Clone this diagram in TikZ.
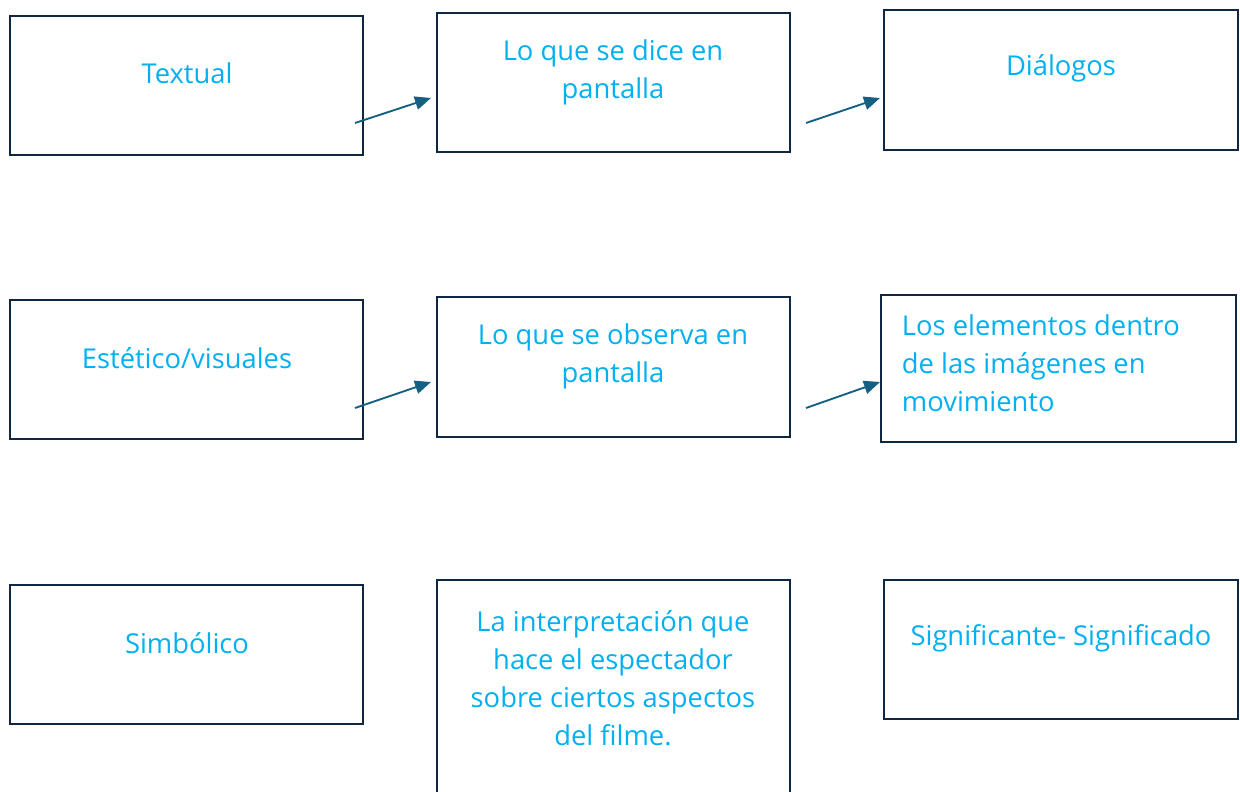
\documentclass[tikz,border=0pt]{standalone}
\usepackage{fontspec}
\setmainfont[Ligatures=NoCommon]{Open Sans}
\usetikzlibrary{arrows.meta}
\definecolor{boxline}{HTML}{0E2841}
\definecolor{arrowline}{HTML}{156082}
\definecolor{labeltext}{HTML}{00B0F0}
\tikzset{every picture/.style={line width=0.75pt},
  box/.style={draw=boxline, line width=1.9pt},
  label/.style={text=labeltext, font=\fontsize{20.5pt}{28.5pt}\selectfont},
  link/.style={draw=arrowline, line width=1.4pt, -{Triangle[length=12pt,width=10pt]}}}
\begin{document}
\begin{tikzpicture}[x=0.75pt,y=0.75pt,yscale=-1,xscale=1]
    \useasboundingbox (0,0) rectangle (1240,792);

    %Shape: Rectangle [id:textual]
    \draw [box] (10,16) -- (363,16) -- (363,155) -- (10,155) -- cycle ;
    %Shape: Rectangle [id:dice]
    \draw [box] (437,13) -- (790,13) -- (790,152) -- (437,152) -- cycle ;
    %Shape: Rectangle [id:dialogos]
    \draw [box] (884,10) -- (1238,10) -- (1238,150) -- (884,150) -- cycle ;
    %Shape: Rectangle [id:estetico]
    \draw [box] (10,300) -- (363,300) -- (363,439) -- (10,439) -- cycle ;
    %Shape: Rectangle [id:observa]
    \draw [box] (437,297) -- (790,297) -- (790,437) -- (437,437) -- cycle ;
    %Shape: Rectangle [id:elementos]
    \draw [box] (881,295) -- (1236,295) -- (1236,442) -- (881,442) -- cycle ;
    %Shape: Rectangle [id:simbolico]
    \draw [box] (10,585) -- (363,585) -- (363,724) -- (10,724) -- cycle ;
    %Shape: Rectangle [id:interpretacion]
    \draw [box] (437,580) -- (790,580) -- (790,800) -- (437,800) -- cycle ;
    %Shape: Rectangle [id:significante]
    \draw [box] (884,580) -- (1238,580) -- (1238,719) -- (884,719) -- cycle ;

    % Text Node
    \draw (187,73) node (textual) [label, align=center] {Textual};
    % Text Node
    \draw (613,72) node (dice) [label, align=center] {Lo que se dice en\\pantalla};
    % Text Node
    \draw (1061,68) node (dialogos) [label, align=center] {Diálogos};
    % Text Node
    \draw (187,358) node (estetico) [label, align=center] {Estético/visuales};
    % Text Node
    \draw (613,356) node (observa) [label, align=center] {Lo que se observa en\\pantalla};
    % Text Node
    \draw (897,363) node (elementos) [label, align=left, anchor=west] {Los elementos dentro\\de las imágenes en\\movimiento};
    % Text Node
    \draw (187,643) node (simbolico) [label, align=center] {Simbólico};
    % Text Node
    \draw (613,678) node (interpretacion) [label, align=center] {La interpretación que\\hace el espectador\\sobre ciertos aspectos\\del filme.};
    % Text Node
    \draw (1061,638) node (significante) [label, align=center] {Significante- Significado};

    % Arrows
    \coordinate (textualout) at (355,123);
    \coordinate (dicein) at (431,98);
    \coordinate (diceout) at (806,123);
    \coordinate (dialogosin) at (880,98);
    \coordinate (esteticoout) at (355,408);
    \coordinate (observain) at (431,382);
    \coordinate (observaout) at (806,408);
    \coordinate (elementosin) at (880,382);
    \draw [link] (textualout) -- (dicein);
    \draw [link] (diceout) -- (dialogosin);
    \draw [link] (esteticoout) -- (observain);
    \draw [link] (observaout) -- (elementosin);
\end{tikzpicture}
\end{document}
